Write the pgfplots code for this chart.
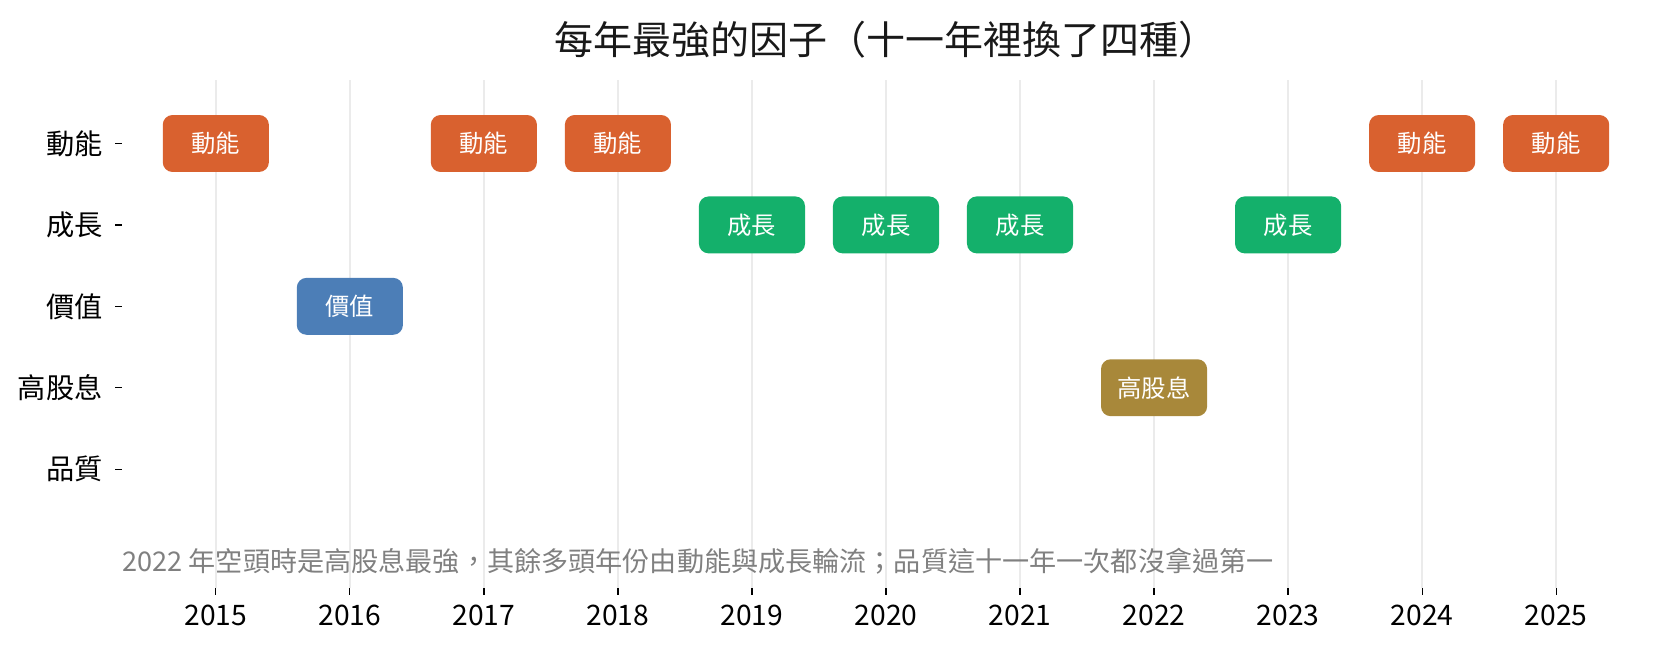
\documentclass[border=0pt]{standalone}
\usepackage{fontspec}
\setmainfont{Noto Sans CJK TC}
\usepackage{pgfplots}
\pgfplotsset{compat=1.18}

\definecolor{cMom}{HTML}{D9612F}
\definecolor{cGro}{HTML}{14B06B}
\definecolor{cVal}{HTML}{4C7EB7}
\definecolor{cDiv}{HTML}{A8883A}
\definecolor{cGrid}{HTML}{EBEBEB}
\definecolor{cNote}{HTML}{808080}

\pgfplotsset{
  factor/.style 2 args={
    only marks, mark=none,
    nodes near coords={#2},
    nodes near coords align={center},
    every node near coord/.append style={
      anchor=center, fill=#1, text=white, rounded corners=3.5bp,
      minimum width=38.2bp, minimum height=20.5bp, inner sep=0pt,
      font=\fontsize{8.8}{10}\selectfont},
  },
}

\begin{document}
\begin{tikzpicture}
\begin{axis}[
  at={(0,0)}, anchor=south west,
  scale only axis,
  width=550.08bp, height=182.88bp,
  xmin=2014.3, xmax=2025.7,
  ymin=-1.46, ymax=4.78,
  axis x line*=bottom, axis y line*=left,
  axis line style={draw=none},
  xtick={2015,2016,2017,2018,2019,2020,2021,2022,2023,2024,2025},
  xticklabels={2015,2016,2017,2018,2019,2020,2021,2022,2023,2024,2025},
  ytick={0,1,2,3,4},
  yticklabels={品質,高股息,價值,成長,動能},
  tick align=outside,
  major tick length=2.4bp,
  tick style={black, line width=0.45bp},
  ticklabel style={font=\fontsize{10.2}{12}\selectfont, text=black},
  yticklabel style={inner sep=0pt, xshift=-4.4bp},
  xticklabel style={inner sep=0pt, yshift=-3.4bp},
  xmajorgrids,
  grid style={cGrid, line width=0.6bp},
  title={每年最強的因子（十一年裡換了四種）},
  title style={at={(0.5,1)}, anchor=center, yshift=8.6bp,
    font=\fontsize{14.1}{16}\selectfont, text=black!90},
  clip=false,
]
\addplot[factor={cMom}{動能}] coordinates {(2015,4) (2017,4) (2018,4) (2024,4) (2025,4)};
\addplot[factor={cGro}{成長}] coordinates {(2019,3) (2020,3) (2021,3) (2023,3)};
\addplot[factor={cVal}{價值}] coordinates {(2016,2)};
\addplot[factor={cDiv}{高股息}] coordinates {(2022,1)};
\node[anchor=west, inner sep=0pt, text=cNote, font=\fontsize{9.8}{12}\selectfont]
  at (rel axis cs:0,0.053) {2022 年空頭時是高股息最強，其餘多頭年份由動能與成長輪流；品質這十一年一次都沒拿過第一};
\end{axis}
\pgfresetboundingbox
\path[use as bounding box] (-43.92bp,-20.88bp) rectangle (555.48bp,211.68bp);
\end{tikzpicture}
\end{document}
